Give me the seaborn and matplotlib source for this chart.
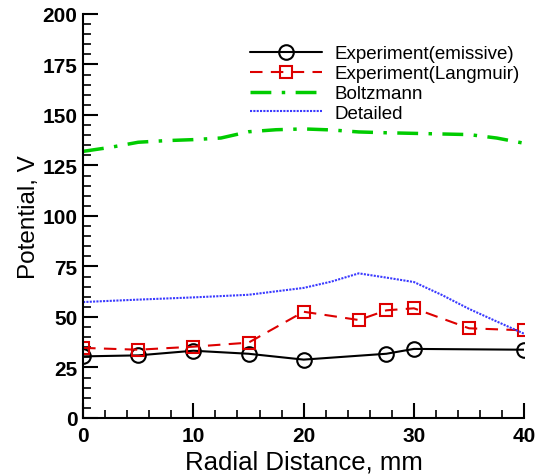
import matplotlib
matplotlib.use("Agg")
import matplotlib.pyplot as plt
import seaborn as sns
import pandas as pd
from matplotlib.ticker import MultipleLocator

# ---- data ----
emis_x = [0, 5, 10, 15, 20, 27.5, 30, 40]
emis_y = [30.5, 31.0, 33.3, 31.8, 28.9, 31.8, 34.2, 33.8]

lang_x = [0, 5, 10, 15, 20, 25, 27.5, 30, 35, 40]
lang_y = [34.7, 33.8, 35.3, 37.3, 52.6, 48.5, 53.3, 54.3, 44.4, 43.4]

boltz_x = [0, 2.5, 5, 7.5, 10, 12.5, 15, 17.5, 20, 22.5, 25, 27.5, 30, 32.5, 35, 37.5, 40]
boltz_y = [132.0, 134.0, 136.5, 137.3, 137.8, 138.6, 141.7, 142.7, 143.1, 142.6,
           141.6, 141.2, 140.9, 140.6, 140.3, 138.6, 136.0]

det_x = [0, 5, 10, 15, 20, 22.5, 25, 27.5, 30, 32.5, 35, 37.5, 40]
det_y = [57.4, 58.6, 59.7, 61.0, 64.4, 67.5, 71.6, 69.5, 67.3, 61.0, 54.0, 47.8, 41.7]

labels = ["Experiment(emissive)", "Experiment(Langmuir)", "Boltzmann", "Detailed"]

sns.set_style("ticks")
plt.rcParams['font.family'] = ['Liberation Sans', 'DejaVu Sans']
plt.rcParams['text.color'] = 'black'
plt.rcParams['axes.labelcolor'] = 'black'
plt.rcParams['xtick.color'] = 'black'
plt.rcParams['ytick.color'] = 'black'
plt.rcParams['axes.edgecolor'] = 'black'

fig = plt.figure(figsize=(5.36, 4.77), dpi=100)
ax = fig.add_axes([0.155, 0.1216, 0.823, 0.847])

def line(x, y, **kw):
    sns.lineplot(x=x, y=y, ax=ax, sort=False, estimator=None, **kw)

line(emis_x, emis_y, color="black", lw=1.5, marker="o", markersize=10.5,
     markerfacecolor="none", markeredgecolor="black", markeredgewidth=1.5,
     label=labels[0])
line(lang_x, lang_y, color="#dd0000", lw=1.5, marker="s", markersize=8.5,
     markerfacecolor="none", markeredgecolor="#dd0000", markeredgewidth=1.5,
     dashes=(6, 4), label=labels[1])
line(boltz_x, boltz_y, color="#00cc00", lw=2.5, dashes=(6, 3, 1, 3),
     label=labels[2])
line(det_x, det_y, color="#3a3aff", lw=1.5, dashes=(1, 0.6),
     label=labels[3])

ax.set_xlim(0, 40)
ax.set_ylim(0, 200)
ax.xaxis.set_major_locator(MultipleLocator(10))
ax.xaxis.set_minor_locator(MultipleLocator(2))
ax.yaxis.set_major_locator(MultipleLocator(25))
ax.yaxis.set_minor_locator(MultipleLocator(5))
ax.tick_params(which="major", direction="in", length=11, width=1.5,
               labelsize=15, pad=4)
ax.tick_params(axis="x", which="major", pad=6)
ax.tick_params(which="minor", direction="in", length=6, width=1.2)
for lab in ax.get_xticklabels() + ax.get_yticklabels():
    lab.set_fontweight("bold")
for s in ["top", "right"]:
    ax.spines[s].set_visible(False)
for s in ["left", "bottom"]:
    ax.spines[s].set_linewidth(1.5)

ax.set_xlabel("Radial Distance, mm", fontsize=18.5, labelpad=3)
ax.set_ylabel("Potential, V", fontsize=17.5, labelpad=2)

leg = ax.legend(loc="upper left", bbox_to_anchor=(0.379, 0.923), frameon=False,
                fontsize=13.5, handlelength=3.8, handletextpad=0.7,
                labelspacing=0.15, borderaxespad=0, borderpad=0)

fig.savefig("out.png", dpi=100)
